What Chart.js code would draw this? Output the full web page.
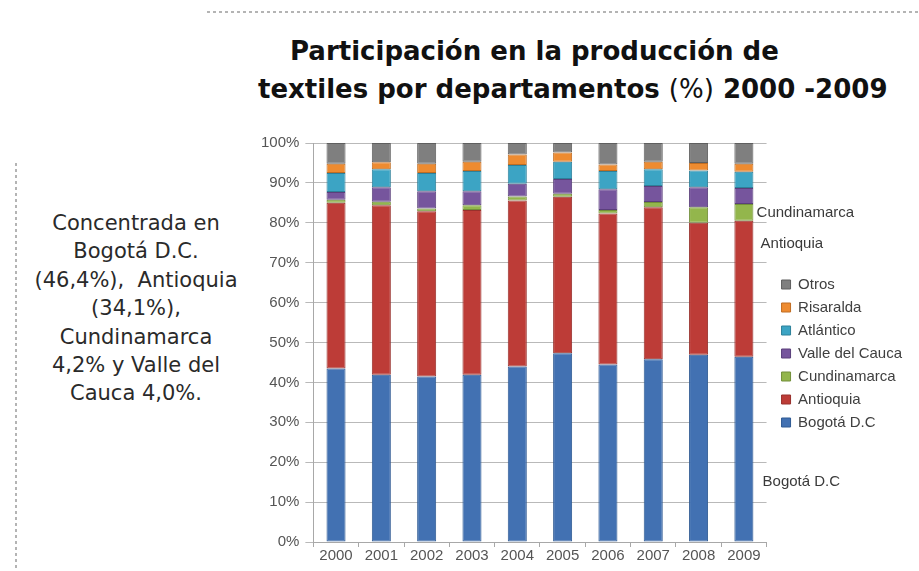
<!DOCTYPE html>
<html lang="es">
<head>
<meta charset="utf-8">
<title>Participación en la producción de textiles</title>
<script src="https://cdn.jsdelivr.net/npm/chart.js@4.4.1/dist/chart.umd.min.js"></script>
<style>
  html, body { margin: 0; padding: 0; background: #fff; }
  body { width: 919px; height: 571px; position: relative; overflow: hidden; }
  .dots-h {
    position: absolute; left: 207px; top: 11px; width: 712px; height: 2px;
    background-image: linear-gradient(to right, #b4b4b4 50%, transparent 50%);
    background-size: 6px 2px;
  }
  .dots-v {
    position: absolute; left: 15px; top: 163px; width: 2px; height: 408px;
    background-image: linear-gradient(to bottom, #b4b4b4 50%, transparent 50%);
    background-size: 2px 6px;
  }
  .title {
    position: absolute; font-family: "DejaVu Sans", sans-serif;
    font-weight: bold; font-size: 26px; color: #111; white-space: nowrap;
  }
  .title span { font-weight: normal; }
  #t1 { left: 290px; top: 36px; }
  #t2 { left: 258px; top: 74px; }
  .note {
    position: absolute; left: 20px; top: 209px; width: 232px; text-align: center;
    font-family: "DejaVu Sans", sans-serif;
    font-size: 21px; line-height: 28.4px; color: #2a2a2a; white-space: pre;
  }
  #wrap { position: absolute; left: 250px; top: 128px; width: 669px; height: 443px; }
</style>
</head>
<body>
<div class="dots-h"></div>
<div class="dots-v"></div>
<div class="title" id="t1">Participación en la producción de</div>
<div class="title" id="t2">textiles por departamentos <span>(%)</span> 2000 -2009</div>
<div class="note">Concentrada en
Bogotá D.C.
(46,4%),  Antioquia
(34,1%),
Cundinamarca
4,2% y Valle del
Cauca 4,0%.</div>
<div id="wrap"><canvas id="chart"></canvas></div>

<script>
const years = ['2000', '2001', '2002', '2003', '2004', '2005', '2006', '2007', '2008', '2009'];

// shares per department, % of textile output
const bogota       = [43.5, 41.9, 41.5, 41.9, 44.0, 47.3, 44.5, 45.8, 46.9, 46.4];
const antioquia    = [41.5, 42.5, 41.4, 41.3, 41.6, 39.2, 37.8, 38.1, 33.1, 34.1];
const cundinamarca = [ 0.8,  0.9,  0.7,  1.2,  1.0,  0.8,  0.9,  1.3,  3.9,  4.2];
const valle        = [ 1.9,  3.6,  4.3,  3.5,  3.2,  3.7,  5.2,  4.0,  5.0,  4.0];
const atlantico    = [ 4.8,  4.5,  4.6,  5.1,  4.7,  4.3,  4.6,  4.2,  4.2,  4.1];
const risaralda    = [ 2.3,  1.8,  2.3,  2.3,  2.6,  2.3,  1.6,  1.9,  1.9,  2.0];
const otros        = [ 5.2,  4.8,  5.2,  4.7,  2.9,  2.4,  5.4,  4.7,  5.0,  5.2];

const yTicks = [0, 10, 20, 30, 40, 50, 60, 70, 80, 90, 100];

const font = '"Liberation Sans", Arial, sans-serif';

function serie(label, data, color, border) {
    return { label: label, data: data, backgroundColor: color, borderColor: border, borderWidth: 1, borderSkipped: false };
}

// series names written next to the last bar
const sideLabels = {
    id: 'sideLabels',
    afterLayout(chart) {
        // leave a little air between the plot and the legend keys
        chart.legend.left += 7;
        chart.legend.right += 7;
        chart.legend.top += 2;
        chart.legend.bottom += 2;
    },
    afterDatasetsDraw(chart) {
        const { ctx, chartArea, scales } = chart;
        const last = years.length - 1;
        const cundMid = bogota[last] + antioquia[last] + cundinamarca[last] / 2;
        ctx.save();
        ctx.font = '15px ' + font;
        ctx.fillStyle = '#3a3a3a';
        ctx.textBaseline = 'middle';
        ctx.fillText('Cundinamarca', chartArea.right - 10, scales.y.getPixelForValue(cundMid));
        ctx.fillText('Antioquia', chartArea.right - 6, scales.y.getPixelForValue(74.6));
        ctx.fillText('Bogotá D.C', chartArea.right - 4, scales.y.getPixelForValue(15));
        ctx.restore();
    }
};

new Chart(document.querySelector('#chart'), {
    type: 'bar',
    data: {
        labels: years,
        datasets: [
            serie('Bogotá D.C', bogota, '#4271b2', '#2f5a93'),
            serie('Antioquia', antioquia, '#bd3c37', '#98302c'),
            serie('Cundinamarca', cundinamarca, '#93b64c', '#728f3a'),
            serie('Valle del Cauca', valle, '#76559d', '#5a3f7b'),
            serie('Atlántico', atlantico, '#3ca4c4', '#2d809a'),
            serie('Risaralda', risaralda, '#ee8b30', '#c06d22'),
            serie('Otros', otros, '#7f7f7f', '#5f5f5f')
        ]
    },
    options: {
        responsive: true,
        maintainAspectRatio: false,
        animation: false,
        layout: { padding: { left: 5, right: 14, top: 10, bottom: 6 } },
        datasets: { bar: { categoryPercentage: 1, barPercentage: 0.42 } },
        plugins: {
            title: { display: false },
            tooltip: { enabled: false },
            legend: {
                position: 'right',
                reverse: true,
                labels: {
                    boxWidth: 9, boxHeight: 9, padding: 8, color: '#404040',
                    font: { family: font, size: 15 }
                }
            }
        },
        scales: {
            x: {
                stacked: true,
                grid: { offset: true, drawOnChartArea: false, drawTicks: true, tickLength: 5, color: '#a8a8a8' },
                border: { color: '#a8a8a8' },
                ticks: { color: '#555', padding: 0, font: { family: font, size: 15 } }
            },
            y: {
                stacked: true,
                min: 0, max: 100,
                afterBuildTicks: axis => { axis.ticks = yTicks.map(v => ({ value: v })); },
                grid: { color: '#b9b9b9', tickLength: 8 },
                border: { color: '#a8a8a8' },
                ticks: {
                    color: '#555', padding: 6,
                    font: { family: font, size: 15 },
                    callback: v => v + '%'
                }
            }
        }
    },
    plugins: [sideLabels]
});
</script>
</body>
</html>
